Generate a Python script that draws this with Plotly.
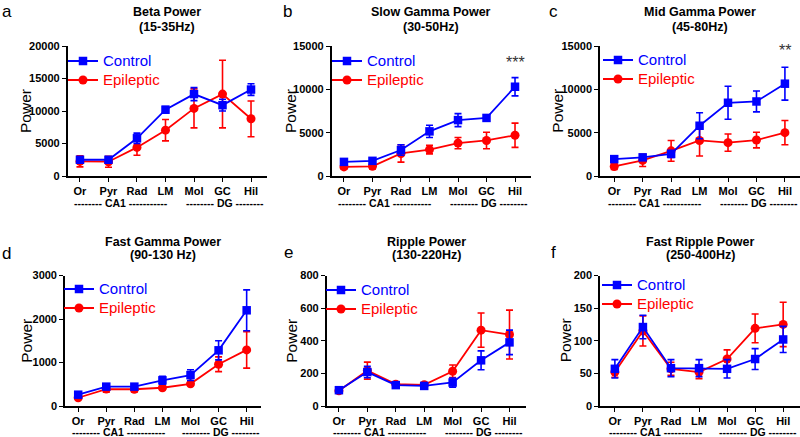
import plotly.graph_objects as go

regions = ["Or", "Pyr", "Rad", "LM", "Mol", "GC", "Hil"]

beta_ctrl = [2500, 2500, 5800, 10200, 12600, 10900, 13300]
beta_ctrl_err = [400, 300, 800, 500, 1000, 900, 900]
beta_epi = [2250, 2200, 4400, 7050, 10400, 12600, 8800]
beta_epi_err = [850, 850, 1200, 1650, 3000, 5200, 2750]

slow_ctrl = [1630, 1750, 3000, 5150, 6450, 6700, 10300]
slow_ctrl_err = [300, 300, 600, 700, 750, 300, 1050]
slow_epi = [1050, 1120, 2600, 3050, 3800, 4100, 4700]
slow_epi_err = [250, 300, 1000, 500, 650, 950, 1400]

mid_ctrl = [1950, 2150, 2550, 5800, 8450, 8600, 10650]
mid_ctrl_err = [200, 250, 400, 1500, 1900, 1200, 1900]
mid_epi = [1100, 1800, 2900, 4100, 3850, 4150, 5000]
mid_epi_err = [350, 700, 1200, 1800, 1000, 900, 1400]

fast_ctrl = [260, 445, 445, 590, 710, 1280, 2200]
fast_ctrl_err = [40, 50, 45, 90, 125, 220, 470]
fast_epi = [190, 390, 385, 420, 510, 960, 1290]
fast_epi_err = [30, 70, 60, 40, 40, 170, 420]

ripple_ctrl = [97, 208, 128, 123, 144, 280, 390]
ripple_ctrl_err = [12, 35, 12, 10, 28, 58, 75]
ripple_epi = [93, 217, 134, 130, 213, 465, 438]
ripple_epi_err = [10, 52, 10, 8, 38, 105, 150]

fripple_ctrl = [57, 121, 58, 58, 57, 72, 102]
fripple_ctrl_err = [14, 18, 13, 13, 14, 16, 20]
fripple_epi = [52, 115, 57, 52, 72, 119, 125]
fripple_epi_err = [8, 23, 10, 10, 14, 22, 34]

titles = [("Beta Power", "(15-35Hz)"), ("Slow Gamma Power", "(30-50Hz)"),
          ("Mid Gamma Power", "(45-80Hz)"), ("Fast Gamma Power", "(90-130 Hz)"),
          ("Ripple Power", "(130-220Hz)"), ("Fast Ripple Power", "(250-400Hz)")]
letters = ["a", "b", "c", "d", "e", "f"]
y_max = [20000, 15000, 15000, 3000, 800, 200]
y_dtick = [5000, 5000, 5000, 1000, 200, 50]
stars = ["", "***", "**", "", "", ""]

series = [
    (beta_ctrl, beta_ctrl_err, beta_epi, beta_epi_err),
    (slow_ctrl, slow_ctrl_err, slow_epi, slow_epi_err),
    (mid_ctrl, mid_ctrl_err, mid_epi, mid_epi_err),
    (fast_ctrl, fast_ctrl_err, fast_epi, fast_epi_err),
    (ripple_ctrl, ripple_ctrl_err, ripple_epi, ripple_epi_err),
    (fripple_ctrl, fripple_ctrl_err, fripple_epi, fripple_epi_err),
]

W, H = 800, 437
BLUE = "#0000ff"
RED = "#ff0000"
FONT = "Arial, Liberation Sans, sans-serif"

# layout geometry (pixels)
x_dom_px = [(67.7, 266.7), (331.7, 530.7), (600, 800), (65, 260.7), (326.7, 525.7), (600, 800)]
x_rng = [(-0.43, 6.55), (-0.43, 6.55), (-0.50, 6.53), (-0.47, 6.50), (-0.43, 6.57), (-0.53, 6.60)]
y_dom_px = [(46, 176)] * 3 + [(275.5, 406)] * 3
title_px = [(12.5, 27)] * 3 + [(242, 255.5)] * 3
letter_px = [(0, 0), (281, 0), (547, 0), (0, 242), (282, 241), (549, 241)]
power_shift = [-42.7, -41.7, -43.3, -38, -34.7, -34.5]
legend_px = [(81, 61), (345, 61), (616, 60), (77, 289), (339, 290), (615, 285)]
group_label_py = [203] * 3 + [432] * 3

def px(x):
    return x / W

def py(y):
    return 1 - y / H

fig = go.Figure()
annotations = []
layout = {}

for i in range(6):
    ax = "" if i == 0 else str(i + 1)
    xref = "x" + ax
    yref = "y" + ax
    ctrl, ctrl_err, epi, epi_err = series[i]
    leg = "legend" if i == 0 else "legend" + str(i + 1)

    fig.add_trace(go.Scatter(
        x=regions, y=epi, xaxis=xref, yaxis=yref, mode="lines+markers",
        name="<span style='color:%s;font-size:15px'>Epileptic</span>" % RED,
        line=dict(color=RED, width=1.8),
        marker=dict(symbol="circle", size=9, color=RED),
        error_y=dict(type="data", array=epi_err, color=RED, thickness=1.6, width=3.5),
        legend=leg, cliponaxis=False,
    ))
    fig.add_trace(go.Scatter(
        x=regions, y=ctrl, xaxis=xref, yaxis=yref, mode="lines+markers",
        name="<span style='color:%s;font-size:15px'>Control</span>" % BLUE,
        line=dict(color=BLUE, width=1.8),
        marker=dict(symbol="square", size=8.5, color=BLUE),
        error_y=dict(type="data", array=ctrl_err, color=BLUE, thickness=1.6, width=3.5),
        legend=leg, cliponaxis=False,
    ))

    xd = x_dom_px[i]
    yd = y_dom_px[i]
    layout["xaxis" + ax] = dict(
        domain=[px(xd[0]), px(xd[1])], range=list(x_rng[i]), anchor=yref,
        type="category", showline=True, linecolor="black", linewidth=1.6,
        ticks="outside", ticklen=4, tickwidth=1.4, tickcolor="black",
        tickfont=dict(family=FONT, size=11, color="black", weight="bold"),
        showgrid=False, zeroline=False, fixedrange=True, automargin=False,
    )
    layout["yaxis" + ax] = dict(
        domain=[py(yd[1]), py(yd[0])], range=[0, y_max[i]], anchor=xref,
        showline=True, linecolor="black", linewidth=1.6,
        ticks="outside", ticklen=4, tickwidth=1.4, tickcolor="black",
        dtick=y_dtick[i], tick0=0, tickformat="d",
        tickfont=dict(family=FONT, size=11, color="black", weight="bold"),
        showgrid=False, zeroline=False, fixedrange=True, automargin=False,
    )

    lx, ly = legend_px[i]
    layout[leg] = dict(
        x=px(lx - 18), y=py(ly - 14.5), xanchor="left", yanchor="top",
        xref="paper", yref="paper", bgcolor="rgba(0,0,0,0)", borderwidth=0,
        font=dict(family=FONT, size=12), traceorder="reversed",
        itemclick=False, itemdoubleclick=False,
    )

    # titles
    cx = (xd[0] + xd[1]) / 2
    for line_text, ty in zip(titles[i], title_px[i]):
        annotations.append(dict(
            text="<b>%s</b>" % line_text, x=px(cx), y=py(ty), xref="paper", yref="paper",
            xanchor="center", yanchor="middle", showarrow=False,
            font=dict(family=FONT, size=12.5, color="black"),
        ))
    # panel letter
    lpx, lpy = letter_px[i]
    annotations.append(dict(
        text=letters[i], x=px(lpx), y=py(lpy), xref="paper", yref="paper",
        xanchor="left", yanchor="top", showarrow=False,
        font=dict(family=FONT, size=17, color="black"),
    ))
    # y title
    annotations.append(dict(
        text="Power", x=0, y=0.5, xref=xref + " domain", yref=yref + " domain",
        xshift=power_shift[i], textangle=-90, xanchor="center", yanchor="middle",
        showarrow=False, font=dict(family=FONT, size=15.5, color="black"),
    ))
    # region group labels
    gy = py(group_label_py[i])
    annotations.append(dict(
        text="<b>-------- CA1 -----------</b>", x=1.45, y=gy, xref=xref, yref="paper",
        xanchor="center", yanchor="middle", showarrow=False,
        font=dict(family=FONT, size=10.5, color="black"),
    ))
    annotations.append(dict(
        text="<b>-------- DG --------</b>", x=5.09, y=gy, xref=xref, yref="paper",
        xanchor="center", yanchor="middle", showarrow=False,
        font=dict(family=FONT, size=10.5, color="black"),
    ))
    if stars[i]:
        sy = 63 if i == 1 else 51
        annotations.append(dict(
            text=stars[i], x="Hil", y=py(sy), xref=xref, yref="paper",
            xanchor="center", yanchor="middle", showarrow=False,
            font=dict(family=FONT, size=16, color="#333333"),
        ))

fig.update_layout(
    width=W, height=H, margin=dict(l=0, r=0, t=0, b=0),
    paper_bgcolor="white", plot_bgcolor="white",
    font=dict(family=FONT, color="black"),
    annotations=annotations, **layout,
)

fig.write_html(
    "out.html",
    config={"displayModeBar": False},
    post_script="document.body.style.margin='0';document.body.style.overflow='hidden';",
)
